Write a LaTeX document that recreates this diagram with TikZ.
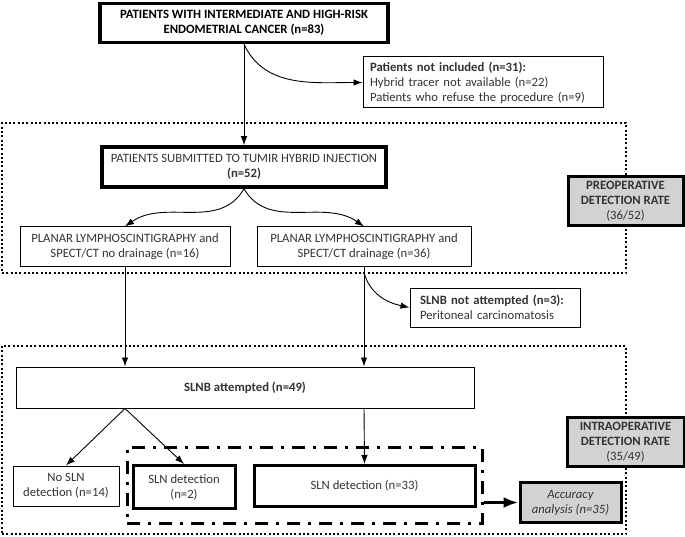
\documentclass[tikz,border=0pt]{standalone}
\usepackage{fontspec}
\setmainfont{Carlito}
\usetikzlibrary{arrows.meta,calc}
\begin{document}
\begin{tikzpicture}[x=1pt,y=-1pt,
  base/.style={draw=black, rectangle, align=center, inner sep=0pt, font=\fontsize{12.7}{15}\selectfont, text=black!80},
  thinbox/.style={base, line width=1pt},
  thickbox/.style={base, line width=3.5pt},
  ratebox/.style={base, line width=3pt, fill=gray!35},
  dotbox/.style={draw=black, line width=2.3pt, dash pattern=on 2pt off 2.3pt, inner sep=0pt},
  ddbox/.style={draw=black, line width=3pt, dash pattern=on 13pt off 8pt on 3pt off 8pt, inner sep=0pt},
  arr/.style={-{Latex[length=9pt,width=6.5pt]}, line width=0.9pt},
  bigarr/.style={-{Latex[length=15pt,width=11pt]}, line width=3.5pt},
]
\useasboundingbox (0,0) rectangle (685,537);

% dotted frames
\node[dotbox, minimum width=624, minimum height=150] (d1) at (314,198) {};
\node[dotbox, minimum width=624, minimum height=188] (d2) at (314,440) {};
\node[ddbox, minimum width=355, minimum height=76] (dd) at (304.5,485) {};

% boxes
\node[thickbox, minimum width=288, minimum height=39, text=black] (top) at (244,23)
  {\textbf{PATIENTS WITH INTERMEDIATE AND HIGH-RISK}\\\textbf{ENDOMETRIAL CANCER (n=83)}};
\node[thinbox, minimum height=51, text width=226, inner xsep=7pt, align=left] (notinc) at (483,82.5)
  {\textbf{Patients not included (n=31):}\\Hybrid tracer not available (n=22)\\Patients who refuse the procedure (n=9)};
\node[thickbox, minimum width=284, minimum height=40] (box2) at (244,167)
  {PATIENTS SUBMITTED TO TUMIR HYBRID INJECTION\\\textbf{(n=52)}};
\node[ratebox, minimum width=115, minimum height=49] (preop) at (625.5,201.5)
  {\textbf{PREOPERATIVE}\\\textbf{DETECTION RATE}\\(36/52)};
\node[thinbox, minimum width=210, minimum height=40] (planL) at (125,247)
  {PLANAR LYMPHOSCINTIGRAPHY and\\SPECT/CT no drainage (n=16)};
\node[thinbox, minimum width=214, minimum height=40] (planR) at (364,247)
  {PLANAR LYMPHOSCINTIGRAPHY and\\SPECT/CT drainage (n=36)};
\node[thinbox, minimum height=39, text width=150, inner xsep=10pt, align=left] (notatt) at (495,307.5)
  {\textbf{SLNB not attempted (n=3):}\\Peritoneal carcinomatosis};
\node[thinbox, minimum width=458, minimum height=41] (slnb) at (245,387.5)
  {\textbf{SLNB attempted (n=49)}};
\node[thinbox, minimum width=106, minimum height=40] (nosln) at (66,486)
  {No SLN\\detection (n=14)};
\node[base, line width=3pt, minimum width=102, minimum height=43] (sln2) at (184,487)
  {SLN detection\\(n=2)};
\node[base, line width=3pt, minimum width=221, minimum height=41] (sln33) at (364.5,486)
  {SLN detection (n=33)};
\node[ratebox, minimum width=117, minimum height=49] (intra) at (625.5,442)
  {\textbf{INTRAOPERATIVE}\\\textbf{DETECTION RATE}\\(35/49)};
\node[ratebox, minimum width=101, minimum height=40] (acc) at (570.5,502.5)
  {\textit{Accuracy}\\\textit{analysis (n=35)}};

% connectors
\draw[arr] (top.south) -- (box2.north);
\draw[arr] (top.south) to[out=-65,in=180] (notinc.west);
\draw[arr] (box2.south) to[out=-120,in=35] (planL.north);
\draw[arr] (box2.south) to[out=-60,in=145] (planR.north);
\draw[arr] (planL.south) -- (planL.south |- slnb.north);
\draw[arr] (planR.south) -- (planR.south |- slnb.north);
\coordinate (br) at ($(planR.south)+(0,5)$);
\draw[arr] (br) to[out=-75,in=168] (notatt.west);
\coordinate (sbL) at (slnb.south -| planL.south);
\coordinate (sbR) at (slnb.south -| planR.south);
\draw[arr] (sbL) -- (nosln.north);
\draw[arr] (sbL) -- (sln2.north);
\draw[arr] (sbR) -- (sln33.north);
\draw[bigarr] (dd.east |- acc.west) -- (acc.west);
\end{tikzpicture}
\end{document}
